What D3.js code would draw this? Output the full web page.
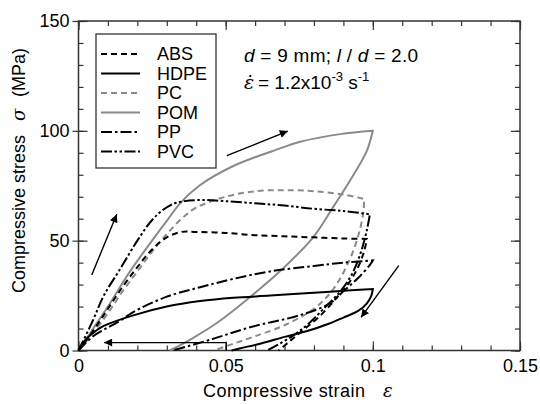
<!DOCTYPE html>
<html>
<head>
<meta charset="utf-8">
<script src="https://cdn.jsdelivr.net/npm/d3@7"></script>
<style>
  body { margin: 0; background: #fff; }
  text { font-family: "Liberation Sans", Arial, sans-serif; }
</style>
</head>
<body>
<div id="chart"></div>
<script>
// loading / unloading curves, [strain, stress MPa]
var absLoad = [[0,0],[0.005,9],[0.01,19],[0.015,29],[0.02,38],[0.025,46],[0.03,51.5],[0.035,54],[0.04,54],[0.05,53.5],[0.06,52.5],[0.07,52],[0.08,51.5],[0.09,51],[0.098,50.8]];
var absUnload = [[0.098,50.8],[0.097,45],[0.095,38],[0.092,31],[0.088,24.5],[0.083,17],[0.077,10],[0.072,4.5],[0.068,0]];

var hdpeLoad = [[0,0],[0.0025,5],[0.005,8],[0.0075,10.4],[0.01,12],[0.0186,16],[0.03,20],[0.0413,22.5],[0.0526,24],[0.0652,25],[0.08,26.3],[0.09,27.2],[0.1,28]];
var hdpeUnload = [[0.1,28],[0.0995,25],[0.098,21.5],[0.095,18],[0.09,15],[0.085,12.2],[0.078,9],[0.07,6.2],[0.062,3.2],[0.055,1],[0.052,0]];

var pcLoad = [[0,0],[0.005,8],[0.01,17],[0.015,27],[0.02,36],[0.025,45],[0.03,53],[0.035,60],[0.04,65],[0.05,70],[0.06,72.5],[0.07,73],[0.08,72.5],[0.09,71],[0.097,69]];
var pcUnload = [[0.097,69],[0.0968,63],[0.095,52],[0.092,41],[0.0866,28],[0.08,19],[0.07,11.5],[0.06,6.5],[0.052,2.8],[0.046,0]];

var pomLoad = [[0,0],[0.005,10],[0.01,20],[0.0175,36],[0.025,50],[0.03,59],[0.0345,67],[0.041,75],[0.0526,84],[0.0685,92],[0.0753,95],[0.0889,98.5],[0.1,100]];
var pomUnload = [[0.1,100],[0.098,91],[0.093,79],[0.0866,65.5],[0.08,52],[0.07,38],[0.058,24],[0.047,12.5],[0.038,5],[0.031,0]];

var ppLoad = [[0,0],[0.005,6.5],[0.01,10.5],[0.0141,13.5],[0.0186,17.5],[0.03,24.5],[0.0413,28.8],[0.0526,32.6],[0.0651,36],[0.08,38.5],[0.09,40],[0.1,41]];
var ppUnload = [[0.1,41],[0.099,39],[0.095,33],[0.09,27],[0.0855,21.5],[0.075,16],[0.0583,10.6],[0.045,5],[0.032,0]];

var pvcLoad = [[0,0],[0.005,14],[0.0084,24.5],[0.0141,37],[0.02,50],[0.0254,60],[0.031,66],[0.036,68],[0.042,68.5],[0.05,68],[0.06,67],[0.07,66],[0.08,64.5],[0.09,63.5],[0.099,62]];
var pvcUnload = [[0.099,62],[0.098,55],[0.096,45],[0.093,35],[0.089,27],[0.084,20],[0.078,12],[0.072,6],[0.064,0]];

var names = ["ABS", "HDPE", "PC", "POM", "PP", "PVC"];
var loads = [absLoad, hdpeLoad, pcLoad, pomLoad, ppLoad, pvcLoad];
var unloads = [absUnload, hdpeUnload, pcUnload, pomUnload, ppUnload, pvcUnload];
var colors = ["#000", "#000", "#8a8a8a", "#8a8a8a", "#000", "#000"];
var dashes = ["6,4", null, "6,4", null, "11,3,2.5,3", "11,2.5,2.5,2.5,2.5,2.5"];

var xTicks = [0, 0.05, 0.1, 0.15];
var yTicks = [0, 50, 100, 150];

// arrows: [x1, y1, x2, y2] in data units
var arrows = [[0.0045,34.4,0.013,62],[0.0504,88.7,0.0711,99.9],[0.1088,38.6,0.096,15.1],[0.0502,3.6,0.0087,3.6]];

var W = 540, H = 404;
var mLeft = 78.5, mRight = 520, mTop = 21, mBottom = 350.5;

var svg = d3.select("#chart")
    .append("svg")
      .attr("width", W)
      .attr("height", H);

var x = d3.scaleLinear().domain([0, 0.15]).range([mLeft, mRight]);
var y = d3.scaleLinear().domain([0, 150]).range([mBottom, mTop]);

var frameColor = "#333";

function styleAxis(g) {
    g.select(".domain").remove();
    g.selectAll(".tick line").attr("stroke", frameColor).attr("stroke-width", 1.2);
    g.selectAll("text").attr("fill", "#000").style("font-size", "18px");
}
// minor ticks, all four sides
var minorX = d3.range(0, 0.1501, 0.01);
var minorY = d3.range(0, 150.1, 10);

svg.append("g").attr("transform", "translate(0," + mBottom + ")")
    .call(d3.axisBottom(x).tickValues(minorX).tickSize(-5).tickFormat(""))
    .call(styleAxis);
svg.append("g").attr("transform", "translate(0," + mTop + ")")
    .call(d3.axisTop(x).tickValues(minorX).tickSize(-5).tickFormat(""))
    .call(styleAxis);
svg.append("g").attr("transform", "translate(" + mLeft + ",0)")
    .call(d3.axisLeft(y).tickValues(minorY).tickSize(-5).tickFormat(""))
    .call(styleAxis);
svg.append("g").attr("transform", "translate(" + mRight + ",0)")
    .call(d3.axisRight(y).tickValues(minorY).tickSize(-5).tickFormat(""))
    .call(styleAxis);

// major ticks + labels
svg.append("g").attr("transform", "translate(0," + mBottom + ")")
    .call(d3.axisBottom(x).tickValues(xTicks).tickSize(-9).tickPadding(9)
        .tickFormat(function(d) { return d === 0 ? "0" : String(d); }))
    .call(styleAxis);
svg.append("g").attr("transform", "translate(0," + mTop + ")")
    .call(d3.axisTop(x).tickValues(xTicks).tickSize(-9).tickFormat(""))
    .call(styleAxis);
svg.append("g").attr("transform", "translate(" + mLeft + ",0)")
    .call(d3.axisLeft(y).tickValues(yTicks).tickSize(-9).tickPadding(9))
    .call(styleAxis)
    .selectAll(".tick line").attr("x1", -6);
svg.append("g").attr("transform", "translate(" + mRight + ",0)")
    .call(d3.axisRight(y).tickValues(yTicks).tickSize(-9).tickFormat(""))
    .call(styleAxis);

// frame
svg.append("rect")
    .attr("x", mLeft).attr("y", mTop)
    .attr("width", mRight - mLeft).attr("height", mBottom - mTop)
    .attr("fill", "none")
    .attr("stroke", frameColor)
    .attr("stroke-width", 1.5);

// curves
var line = d3.line()
    .x(function(d) { return x(d[0]); })
    .y(function(d) { return y(d[1]); })
    .curve(d3.curveCatmullRom.alpha(0.5));

var order = [3, 2, 4, 1, 0, 5];
order.forEach(function(i) {
    svg.append("path")
        .attr("d", line(loads[i]) + line(unloads[i]).replace(/^M/, "L"))
        .attr("fill", "none")
        .attr("stroke", colors[i])
        .attr("stroke-width", 2)
        .attr("stroke-dasharray", dashes[i]);
});

// arrows
svg.append("defs").append("marker")
    .attr("id", "head")
    .attr("viewBox", "0 0 10 10")
    .attr("refX", 10).attr("refY", 5)
    .attr("markerWidth", 12).attr("markerHeight", 8)
    .attr("markerUnits", "userSpaceOnUse")
    .attr("orient", "auto")
  .append("path")
    .attr("d", "M0,0L10,5L0,10Z")
    .attr("fill", "#000");

arrows.forEach(function(a) {
    svg.append("line")
        .attr("x1", x(a[0])).attr("y1", y(a[1]))
        .attr("x2", x(a[2])).attr("y2", y(a[3]))
        .attr("stroke", "#000")
        .attr("stroke-width", 1.4)
        .attr("marker-end", "url(#head)");
});
// small drop at the start of the bottom arrow
svg.append("line")
    .attr("x1", x(arrows[3][0])).attr("y1", y(arrows[3][1]))
    .attr("x2", x(arrows[3][0])).attr("y2", y(0))
    .attr("stroke", "#000")
    .attr("stroke-width", 1.2);

// legend
svg.append("rect")
    .attr("x", 96).attr("y", 34)
    .attr("width", 120).attr("height", 134)
    .attr("fill", "#fff")
    .attr("stroke", frameColor)
    .attr("stroke-width", 1.3);

names.forEach(function(n, i) {
    var ly = 54 + i * 19.5;
    svg.append("line")
        .attr("x1", 101).attr("x2", 140)
        .attr("y1", ly).attr("y2", ly)
        .attr("stroke", colors[i])
        .attr("stroke-width", 2)
        .attr("stroke-dasharray", dashes[i]);
    svg.append("text")
        .attr("x", 157).attr("y", ly)
        .attr("dy", "0.35em")
        .style("font-size", "18px")
        .text(n);
});

// test conditions
var t1 = svg.append("text").attr("x", 244).attr("y", 62).style("font-size", "19px");
t1.append("tspan").style("font-style", "italic").text("d");
t1.append("tspan").text(" = 9 mm; ");
t1.append("tspan").style("font-style", "italic").text("l");
t1.append("tspan").text(" / ");
t1.append("tspan").style("font-style", "italic").text("d");
t1.append("tspan").text(" = 2.0");
t1.attr("textLength", 174).attr("lengthAdjust", "spacing");

var t2 = svg.append("text").attr("x", 244).attr("y", 89).style("font-size", "19px");
t2.append("tspan").style("font-style", "italic").style("font-family", "'DejaVu Serif', serif").text("\u03B5\u0307");
t2.append("tspan").attr("x", 258).text("= 1.2x10");
t2.append("tspan").attr("dy", -8).style("font-size", "13px").text("-3");
t2.append("tspan").attr("dy", 8).text(" s");
t2.append("tspan").attr("dy", -8).style("font-size", "13px").text("-1");

// axis titles
var xt = svg.append("text").attr("x", 203).attr("y", 397).style("font-size", "18px");
xt.append("tspan").attr("textLength", 162).attr("lengthAdjust", "spacing").text("Compressive strain");
xt.append("tspan").attr("x", 383).style("font-style", "italic")
    .style("font-family", "'DejaVu Serif', serif").text("\u03B5");

var yt = svg.append("text")
    .attr("transform", "translate(25,293) rotate(-90)")
    .style("font-size", "18px");
yt.append("tspan").text("Compressive  stress");
yt.append("tspan").attr("x", 172).style("font-style", "italic")
    .style("font-family", "'DejaVu Serif', serif").text("\u03C3");
yt.append("tspan").attr("x", 196).text("(MPa)");
</script>
</body>
</html>
